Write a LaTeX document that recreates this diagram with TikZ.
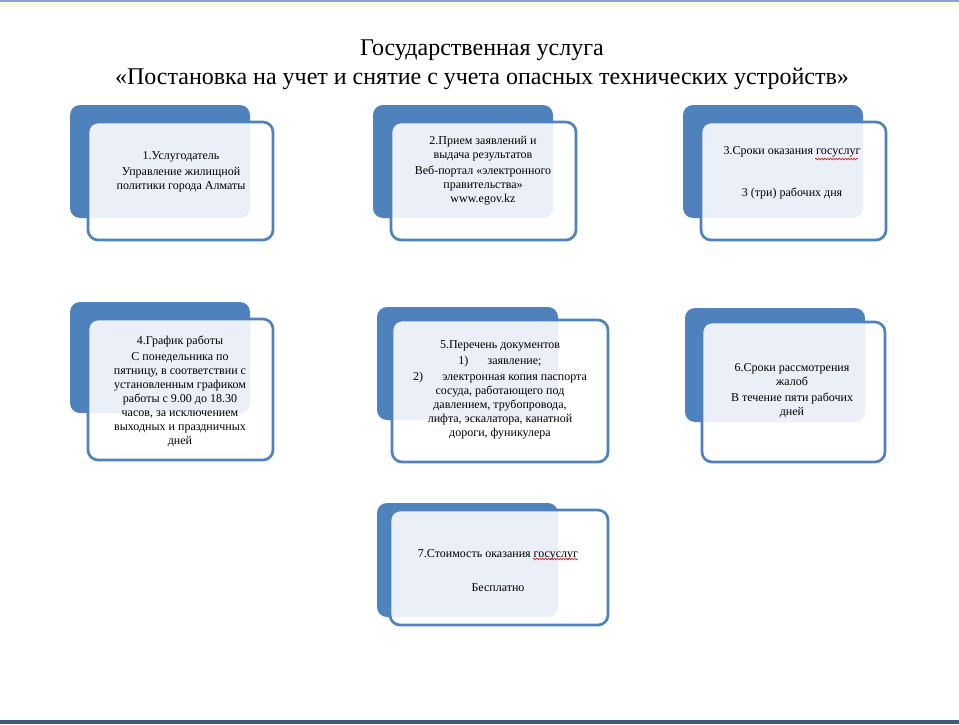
\documentclass[tikz,border=0pt]{standalone}
\usepackage{fontspec}
\setmainfont{Liberation Serif}
\usepackage{xcolor}
\usetikzlibrary{decorations.pathmorphing}
\definecolor{CardBlue}{HTML}{4F81BD}
\definecolor{CardTint}{HTML}{EBEFF7}
\definecolor{TopBar}{HTML}{8EA3C8}
\definecolor{BottomBar}{HTML}{44597A}
\definecolor{SpellRed}{HTML}{D82020}
\tikzset{
  backcard/.style={fill=CardBlue, rounded corners=7.5pt},
  frontcard/.style={draw=CardBlue, fill=white, line width=2pt, rounded corners=7.5pt},
  cardtext/.style={align=center, inner sep=0pt, font=\fontsize{9}{10.5}\selectfont},
  titletext/.style={align=center, inner sep=0pt, font=\fontsize{18}{21.75}\selectfont},
  spellmark/.style={SpellRed, line width=0.5pt, decorate, decoration={snake, amplitude=0.6pt, segment length=2.2pt}}
}

\begin{document}
\begin{tikzpicture}[x=0.75pt, y=-0.75pt]
      \useasboundingbox (0,0) rectangle (959,724);
      \fill[TopBar] (0,0) rectangle (959,3);
      \shade[top color=TopBar!25!yellow!10, bottom color=white] (0,3) rectangle (959,14);
      \fill[BottomBar] (0,720) rectangle (959,724);
      \node[titletext] (title) at (482,65) {Государственная услуга\\«Постановка на учет и снятие с учета опасных технических устройств»};
      \foreach \ax/\ay/\bx/\by/\cx/\cy/\dx/\dy in {
          70/105/250/218/88/122/273/240, 373/105/553/218/391/122/576/240,
          683/105/863/218/701/122/886/240, 70/302/250/413/88/319/273/460,
          377/307/558/420/392/320/608/462, 685/308/865/422/702/322/885/462,
          377/503/558/617/390/510/608/625}{
        \fill[backcard] (\ax,\ay) rectangle (\bx,\by);
        \draw[frontcard, path picture={\fill[CardTint, rounded corners=7.5pt] (\ax,\ay) rectangle (\bx,\by);}] (\cx,\cy) rectangle (\dx,\dy);
      }
      \node[cardtext] (provider) at (181,172) {1.Услугодатель\\[1.5pt]Управление жилищной\\политики города Алматы};
      \node[cardtext] (intake) at (483,171) {2.Прием заявлений и\\выдача результатов\\[1.5pt]Веб-портал «электронного\\правительства»\\www.egov.kz};
      \node[cardtext] (terms) at (792,173) {3.Сроки оказания госуслуг\\[21pt]3 (три) рабочих дня};
      \node[cardtext] (schedule) at (180,391) {4.График работы\\[1.5pt]С понедельника по\\пятницу, в соответствии с\\установленным графиком\\работы с 9.00 до 18.30\\часов, за исключением\\выходных и праздничных\\дней};
      \node[cardtext] (documents) at (500,390) {5.Перечень документов\\[1.5pt]1)\hspace{1.6em}заявление;\\[1.5pt]2)\hspace{1.6em}электронная копия паспорта\\сосуда, работающего под\\давлением, трубопровода,\\лифта, эскалатора, канатной\\дороги, фуникулера};
      \node[cardtext] (complaints) at (792,391) {6.Сроки рассмотрения\\жалоб\\[1.5pt]В течение пяти рабочих\\дней};
      \node[cardtext] (cost) at (498,571) {7.Стоимость оказания госуслуг\\[15pt]Бесплатно};
      \draw[spellmark] (815,159) -- (858,159);
      \draw[spellmark] (533,559) -- (578,559);
    \end{tikzpicture}
\end{document}
